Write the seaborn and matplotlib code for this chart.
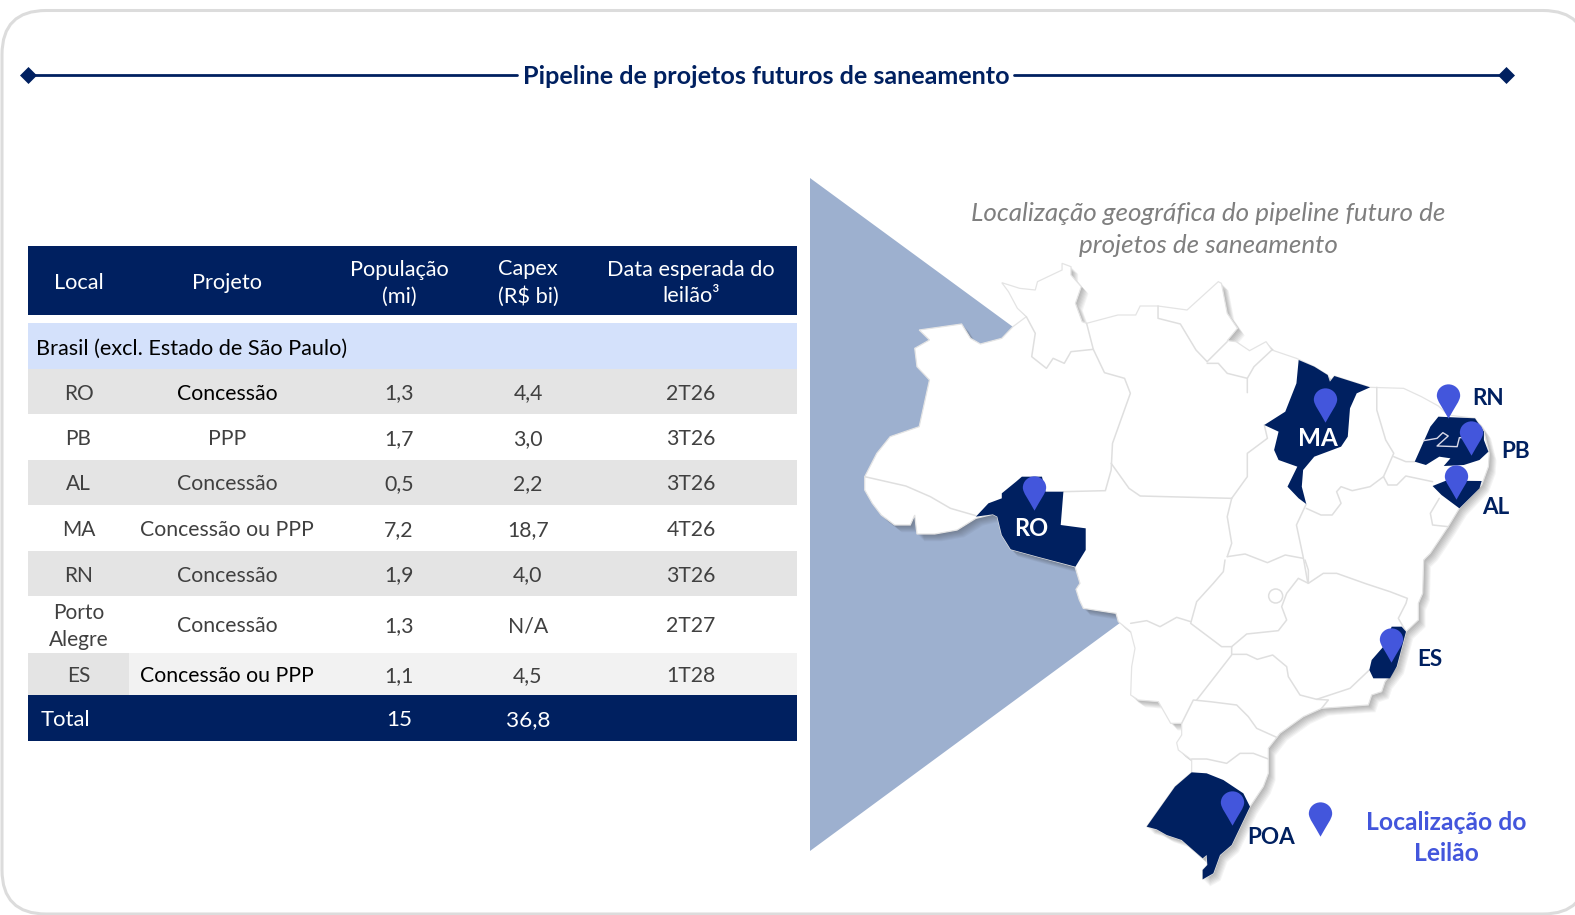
import numpy as np
import pandas as pd
import matplotlib
matplotlib.use("Agg")
import matplotlib.pyplot as plt
from matplotlib.patches import Rectangle, Polygon, FancyBboxPatch, Circle
from matplotlib.path import Path
import seaborn as sns

sns.set_theme(style="white")
plt.rcParams["font.family"] = ["Lato", "DejaVu Sans"]

NAVY = "#002060"
PIN = "#4356DC"
BORDER = "#dfdfdf"

# -----------------------------
# Table data
# -----------------------------
headers = ["Local", "Projeto", "População\n(mi)", "Capex\n(R$ bi)", "Data esperada do\nleilão³"]
section = "Brasil (excl. Estado de São Paulo)"
local = ["RO", "PB", "AL", "MA", "RN", "Porto\nAlegre", "ES"]
projeto = ["Concessão", "PPP", "Concessão", "Concessão ou PPP", "Concessão", "Concessão", "Concessão ou PPP"]
populacao = ["1,3", "1,7", "0,5", "7,2", "1,9", "1,3", "1,1"]
capex = ["4,4", "3,0", "2,2", "18,7", "4,0", "N/A", "4,5"]
data_leilao = ["2T26", "3T26", "3T26", "4T26", "3T26", "2T27", "1T28"]
total_pop = "15"
total_capex = "36,8"

# -----------------------------
# Map shapes, read off two crops of the picture
# -----------------------------
north_coast = [(33,680),(60,610),(90,560),(155,530),(178,390),(150,350),(145,295),(178,270),(155,240),
               (250,222),(270,265),(292,282),(340,265),(365,230),(395,200),(375,175),(355,125),(340,98),
               (380,115),(415,120),(420,95),(475,60),(475,40),(495,50),(495,75),(518,110),(505,160),
               (520,215),(530,220),(600,195),(640,195),(650,168),(690,168),(755,180),(825,95),(832,100),
               (845,190),(868,235),(845,272),(865,275),(895,302),(932,275),(945,300),(1000,325),(1040,350),
               (1070,375),(1075,395),(1085,378),(1165,412),(1240,415),(1280,440),(1318,468),(1340,495),
               (1400,505),(1420,545),(1432,610),(1430,650),(1415,705),(1365,775),(1340,830),(1300,910),
               (1285,930)]
south_coast = [(1121,0),(1118,100),(1105,130),(1105,180),(1068,215),(1040,320),(1005,365),(995,395),(965,405),
               (955,435),(815,445),(760,470),(690,520),(655,565),(655,640),(640,680),(600,740),(545,855),
               (510,885),(490,940),(458,958),(458,930),(472,915),(470,885),(458,895),(395,840),(350,825),
               (320,808),(290,800),(375,680),(425,637),(425,600),(385,570),(380,548),(395,525),(395,490),
               (362,490),(325,425),(265,420),(242,405),(245,320),(255,265),(242,215),(205,185),(198,160),
               (100,145),(88,120),(78,88),(90,70),(75,20)]
west_edge = [(420,920),(360,898),(340,855),(330,800),(320,793),(282,805),(240,840),(190,852),(150,852),
             (145,795),(135,825),(100,825),(70,795),(50,760),(33,720)]

state_ro = [(282,800),(310,760),(340,745),(340,730),(372,695),(385,680),(430,680),(438,725),(478,725),(472,825),
            (528,835),(528,900),(505,950),(420,920),(360,898),(340,855),(330,800),(320,793)]
state_ma = [(1005,330),(1040,350),(1070,375),(1075,395),(1085,378),(1165,412),(1135,430),(1120,475),(1115,560),
            (1100,590),(1040,620),(1015,660),(1012,710),(1022,762),(1005,745),(980,710),(1002,650),(960,630),
            (950,600),(960,545),(928,525),(975,485),(1000,400)]
state_pb = [(1300,530),(1318,500),(1400,505),(1420,545),(1420,570),(1430,605),(1410,630),(1375,645),(1330,648),
            (1345,625),(1320,620),(1290,645),(1265,635)]
state_al = [(1305,708),(1335,692),(1415,693),(1410,715),(1365,775),(1325,735)]
state_es = [(1025,200),(1055,200),(1068,215),(1040,320),(1020,355),(970,355),(958,330),(965,300),(1000,260)]
state_rs = [(290,800),(375,680),(425,637),(470,640),(520,660),(580,700),(600,740),(545,855),(510,885),(490,940),
            (458,958),(458,930),(472,915),(470,885),(458,895),(395,840),(350,825),(320,808)]
pb_inset = [(1285,572),(1315,565),(1328,548),(1340,558),(1315,588),(1360,590),(1365,563),(1395,562)]

north_borders = [
    [(33,680),(125,708),(180,740),(225,775),(282,797)],
    [(395,200),(415,250),(407,320),(440,355),(455,325),(480,340),(495,305),(545,298),(530,220)],
    [(545,298),(570,368),(615,385),(628,430),(588,580),(585,660),(572,722),(478,725)],
    [(585,640),(625,715),(650,738),(855,745)],
    [(855,745),(890,680),(890,610),(935,565),(928,525)],
    [(690,168),(690,205),(740,222),(775,300),(800,335)],
    [(800,335),(845,275)],
    [(800,340),(825,340),(845,370),(890,385),(890,428)],
    [(890,385),(905,350),(945,300)],
    [(855,745),(845,800),(855,880),(845,920)],
    [(1022,762),(1000,825),(1015,920),(1025,995)],
    [(845,920),(885,912),(935,938),(975,915),(1015,925)],
    [(1022,775),(1055,795),(1080,795),(1100,760),(1090,725),(1100,710),(1125,722),(1165,710),(1195,680),
     (1205,705),(1225,705),(1245,678),(1305,695)],
    [(1180,412),(1180,480),(1200,570),(1218,610),(1205,650),(1195,680)],
    [(1218,620),(1245,635),(1265,635)],
    [(1320,745),(1300,790),(1305,825),(1340,830)],
]
south_borders = [
    [(525,0),(520,35),(490,70),(440,125),(422,190),(515,260),(545,260)],
    [(242,190),(290,182),(330,200),(380,172),(422,185)],
    [(545,260),(590,222),(685,212),(710,180),(695,140),(710,100),(745,55),(775,70),(775,30),(765,0)],
    [(775,70),(820,40),(860,40),(950,72),(1020,95),(1072,115),(1068,130),(1045,175),(1068,215)],
    [(545,260),(545,285),(440,420)],
    [(545,283),(590,283),(622,298),(668,285),(710,320),(715,350),(750,405),(800,418),(900,385),(958,330)],
    [(800,418),(835,420),(815,445)],
    [(395,490),(430,420),(480,425),(560,435),(595,470),(620,505),(680,532)],
    [(425,597),(470,597),(530,610),(570,580),(610,580),(655,597)],
]

# pins: name, centre x, centre y
pin_names = ["RO", "MA", "RN", "PB", "AL", "ES", "POA", "legenda"]
pin_x = [1034, 1325, 1448, 1471, 1456, 1391, 1232, 1320]
pin_y = [493, 405, 401, 438, 482, 645, 808, 819]


def crop1(pts):
    # first crop: 700x340 at (850,250)
    return [(850 + x / 2.24, 250 + y / 3) for x, y in pts]


def crop2(pts):
    # second crop: 500x330 at (1050,560)
    return [(1050 + x / 3, 560 + y / 3) for x, y in pts]


def border_line(ax, pts, color=BORDER, lw=1.1):
    df = pd.DataFrame(pts, columns=["x", "y"])
    sns.lineplot(data=df, x="x", y="y", sort=False, estimator=None, color=color, linewidth=lw, ax=ax, legend=False)


fig = plt.figure(figsize=(15.75, 9.15), dpi=100)
ax = fig.add_axes([0, 0, 1, 1])
ax.set_xlim(0, 1575)
ax.set_ylim(915, 0)
ax.axis("off")

# Frame
ax.add_patch(FancyBboxPatch((2, 10.5), 1585, 903.5, boxstyle="round,pad=0,rounding_size=44",
                            fc="white", ec="#dcdcdc", lw=2.2, zorder=0))

# -----------------------------
# Title with rule
# -----------------------------
for x0, x1 in [(28, 517), (1014, 1506)]:
    border_line(ax, [(x0, 75), (x1, 75)], color=NAVY, lw=2)
sns.scatterplot(x=[28, 1506], y=[75, 75], marker="D", s=75, color=NAVY, linewidth=0, ax=ax, legend=False)
ax.text(766, 76.5, "Pipeline de projetos futuros de saneamento", ha="center", va="center",
        fontsize=18.1, fontweight="bold", color=NAVY)

# -----------------------------
# Table
# -----------------------------
X0, X1 = 28, 797
col_x = [78.5, 227, 399, 528, 691]
row_edges = [369, 414, 460, 505, 551, 596, 653, 695]
row_fill = ["#e4e4e4", "white", "#e4e4e4", "white", "#e4e4e4", "white", "#f2f2f2"]

ax.add_patch(Rectangle((X0, 246), X1 - X0, 69, fc=NAVY, ec="none"))
ax.add_patch(Rectangle((X0, 323), X1 - X0, 46, fc="#d4e1fb", ec="none"))
for i, fill in enumerate(row_fill):
    ax.add_patch(Rectangle((X0, row_edges[i]), X1 - X0, row_edges[i + 1] - row_edges[i], fc=fill, ec="none"))
ax.add_patch(Rectangle((X0, 653), 101, 42, fc="#e4e4e4", ec="none"))
ax.add_patch(Rectangle((X0, 695), X1 - X0, 46, fc=NAVY, ec="none"))

for x, label in zip(col_x, headers):
    ax.text(x, 283, label, ha="center", va="center", fontsize=15.7, color="white", linespacing=1.42)
ax.text(36, 349, section, ha="left", va="center", fontsize=15.6, color="black")

for i in range(len(local)):
    yc = (row_edges[i] + row_edges[i + 1]) / 2 + 2
    proj_color = "black" if i in (0, 6) else "#404040"
    ax.text(col_x[0], yc, local[i], ha="center", va="center", fontsize=15, color="#404040", linespacing=1.42)
    ax.text(col_x[1], yc, projeto[i], ha="center", va="center", fontsize=15.35, color=proj_color)
    ax.text(col_x[2], yc, populacao[i], ha="center", va="center", fontsize=15.35, color="#404040")
    ax.text(col_x[3], yc, capex[i], ha="center", va="center", fontsize=15.35, color="#404040")
    ax.text(col_x[4], yc, data_leilao[i], ha="center", va="center", fontsize=15.35, color="#404040")

ax.text(41, 720, "Total", ha="left", va="center", fontsize=15.8, color="white")
ax.text(col_x[2], 720, total_pop, ha="center", va="center", fontsize=16.2, color="white")
ax.text(col_x[3], 720, total_capex, ha="center", va="center", fontsize=16.2, color="white")

# -----------------------------
# Triangle and map
# -----------------------------
ax.add_patch(Polygon([(810, 178), (810, 851), (1268, 514)], fc="#9db0cf", ec="none", zorder=1))

outline = crop1(north_coast) + crop2(south_coast) + crop1(west_edge)
for off in range(1, 9):
    ax.add_patch(Polygon(np.array(outline) + [off * 0.9, off * 0.9], fc="#303030", ec="none", alpha=0.05, zorder=1.5))
ax.add_patch(Polygon(outline, fc="white", ec="#e4e4e4", lw=0.9, zorder=2))

for line in north_borders:
    border_line(ax, crop1(line))
for line in south_borders:
    border_line(ax, crop2(line))
ax.add_patch(Circle((1050 + 677 / 3, 560 + 108 / 3), 7, fc="white", ec=BORDER, lw=1.1, zorder=3))

for shape in [crop1(state_ro), crop1(state_ma), crop1(state_pb), crop1(state_al), crop2(state_es), crop2(state_rs)]:
    ax.add_patch(Polygon(shape, fc=NAVY, ec="none", zorder=4))
inset = pd.DataFrame(crop1(pb_inset), columns=["x", "y"])
sns.lineplot(data=inset, x="x", y="y", sort=False, estimator=None, color="#d8d8e8", linewidth=1, ax=ax,
             legend=False, zorder=5)

# -----------------------------
# Pins
# -----------------------------
pin_marker = Path(
    [(0, -1), (-0.35, -0.35), (-0.68, 0.05), (-0.68, 0.34), (-0.68, 0.72), (-0.36, 1), (0, 1),
     (0.36, 1), (0.68, 0.72), (0.68, 0.34), (0.68, 0.05), (0.35, -0.35), (0, -1), (0, -1)],
    [Path.MOVETO, Path.CURVE4, Path.CURVE4, Path.CURVE4, Path.CURVE4, Path.CURVE4, Path.CURVE4,
     Path.CURVE4, Path.CURVE4, Path.CURVE4, Path.CURVE4, Path.CURVE4, Path.CURVE4, Path.CLOSEPOLY])
pins = pd.DataFrame({"name": pin_names, "x": pin_x, "y": pin_y})
sns.scatterplot(data=pins, x="x", y="y", marker=pin_marker, s=610, color=PIN, linewidth=0, ax=ax,
                legend=False, zorder=6)

# -----------------------------
# Labels
# -----------------------------
ax.text(1031, 529, "RO", ha="center", va="center", fontsize=17, fontweight="bold", color="white", zorder=7)
ax.text(1318, 438, "MA", ha="center", va="center", fontsize=17.5, fontweight="bold", color="white", zorder=7)
for name, x, y in [("RN", 1488, 398.5), ("PB", 1516, 451.5), ("AL", 1496, 507.5), ("ES", 1430, 659), ("POA", 1271, 837)]:
    ax.text(x, y, name, ha="center", va="center", fontsize=16.2, fontweight="bold", color=NAVY, zorder=7)
ax.text(1446, 838, "Localização do\nLeilão", ha="center", va="center", fontsize=17.7, fontweight="bold",
        color=PIN, linespacing=1.44, zorder=7)
ax.text(1208, 229.5, "Localização geográfica do pipeline futuro de\nprojetos de saneamento", ha="center", va="center",
        fontsize=18.7, style="italic", color="#7f7f7f", linespacing=1.5, zorder=7)

fig.savefig("out.png", dpi=100)
plt.close(fig)
